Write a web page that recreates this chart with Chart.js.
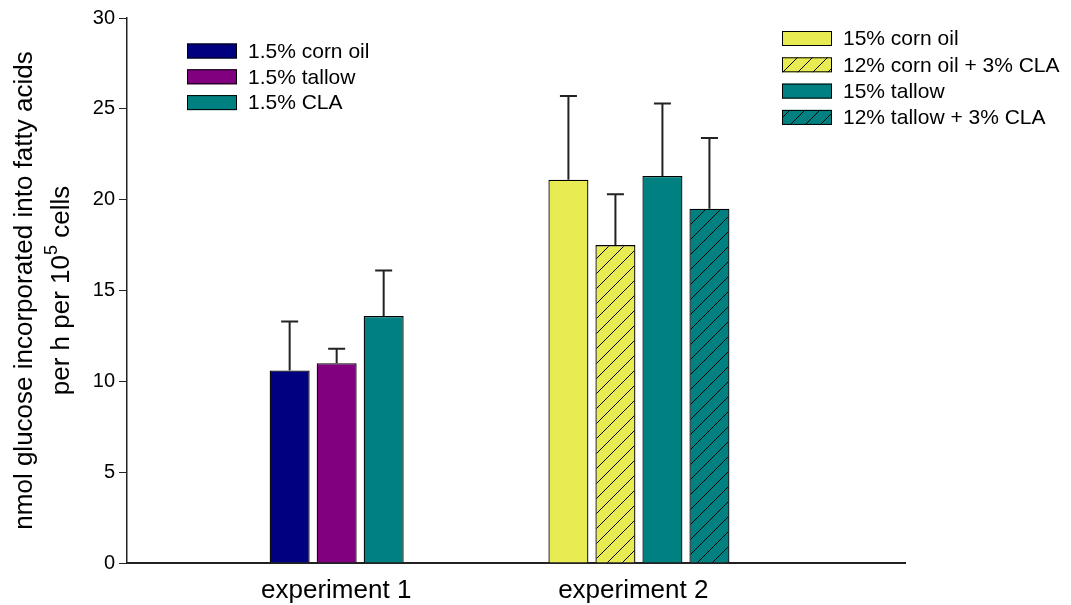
<!DOCTYPE html>
<html>
<head>
<meta charset="utf-8">
<script src="https://cdn.jsdelivr.net/npm/chart.js@4.4.0/dist/chart.umd.min.js"></script>
<style>
  body { margin: 0; background: #fff; }
  #wrap { width: 1071px; height: 605px; }
</style>
</head>
<body>
<div id="wrap"><canvas id="chart" width="1071" height="605"></canvas></div>
<script>
// data
var groupNames = ['experiment 1', 'experiment 2'];

var exp1Labels = ['1.5% corn oil', '1.5% tallow', '1.5% CLA'];
var exp1Values = [10.6, 11.0, 13.6];
var exp1Errors = [2.7, 0.8, 2.5];

var exp2Labels = ['15% corn oil', '12% corn oil + 3% CLA', '15% tallow', '12% tallow + 3% CLA'];
var exp2Values = [21.1, 17.5, 21.3, 19.5];
var exp2Errors = [4.6, 2.8, 4.0, 3.9];

var yMin = 0, yMax = 30, yStep = 5;

// styling
var exp1Colors = ['#000080', '#800080', '#008080'];
var exp2Colors = ['#e8ec52', '#e8ec52', '#008080', '#008080'];
var exp2Hatched = [false, true, false, true];

// layout (x axis in "bar slot" units)
var SLOT_COUNT = 16.55;
var GROUP_START = [3.46, 9.39];
var LABEL_AT = [4.45, 10.77];
var FONT = 'Arial, "Liberation Sans", Helvetica, sans-serif';

function hatch(color) {
    var c = document.createElement('canvas');
    c.width = 15; c.height = 15;
    var g = c.getContext('2d');
    g.fillStyle = color;
    g.fillRect(0, 0, 15, 15);
    g.strokeStyle = '#000';
    g.lineWidth = 1;
    g.beginPath();
    g.moveTo(0, 15); g.lineTo(15, 0);
    g.moveTo(-2, 2); g.lineTo(2, -2);
    g.moveTo(13, 17); g.lineTo(17, 13);
    g.stroke();
    return g.createPattern(c, 'repeat');
}

var datasets = [];
exp1Labels.forEach(function (label, i) {
    datasets.push({
        label: label,
        data: [{x: GROUP_START[0] + i, y: exp1Values[i]}],
        errors: [exp1Errors[i]],
        legendGroup: 0,
        backgroundColor: exp1Colors[i]
    });
});
exp2Labels.forEach(function (label, i) {
    datasets.push({
        label: label,
        data: [{x: GROUP_START[1] + i, y: exp2Values[i]}],
        errors: [exp2Errors[i]],
        legendGroup: 1,
        backgroundColor: exp2Hatched[i] ? hatch(exp2Colors[i]) : exp2Colors[i]
    });
});
datasets.forEach(function (ds) {
    ds.grouped = false;
    ds.borderColor = '#000';
    ds.borderWidth = 1.3;
    ds.borderSkipped = 'bottom';
    ds.barPercentage = 40 / 47;
    ds.categoryPercentage = 1;
});

var errorBars = {
    id: 'errorBars',
    afterDatasetsDraw: function (chart) {
        var ctx = chart.ctx;
        var yScale = chart.scales.y;
        ctx.save();
        ctx.strokeStyle = '#222';
        ctx.lineWidth = 2;
        chart.data.datasets.forEach(function (ds, di) {
            var meta = chart.getDatasetMeta(di);
            meta.data.forEach(function (bar, j) {
                var top = yScale.getPixelForValue(ds.data[j].y + ds.errors[j]);
                ctx.beginPath();
                ctx.moveTo(bar.x, bar.y);
                ctx.lineTo(bar.x, top);
                ctx.moveTo(bar.x - 8.5, top);
                ctx.lineTo(bar.x + 8.5, top);
                ctx.stroke();
            });
        });
        ctx.restore();
    }
};

var legends = {
    id: 'twoLegends',
    afterDraw: function (chart) {
        var ctx = chart.ctx;
        var spots = [
            {x: 187, y: 51, step: 25.8},
            {x: 782, y: 38.5, step: 26.3}
        ];
        var rows = [0, 0];
        ctx.save();
        ctx.font = '21px ' + FONT;
        ctx.textBaseline = 'middle';
        ctx.fillStyle = '#000';
        chart.data.datasets.forEach(function (ds) {
            var s = spots[ds.legendGroup];
            var y = s.y + s.step * rows[ds.legendGroup]++;
            ctx.fillStyle = ds.backgroundColor;
            ctx.fillRect(s.x, y - 7.5, 50, 15);
            ctx.strokeStyle = '#000';
            ctx.lineWidth = 1;
            ctx.strokeRect(s.x + 0.5, y - 7, 49, 14);
            ctx.fillStyle = '#000';
            ctx.fillText(ds.label, s.x + 61, y + 1);
        });
        ctx.restore();
    }
};

var yTitle = {
    id: 'yTitle',
    afterDraw: function (chart) {
        var ctx = chart.ctx;
        var area = chart.chartArea;
        var cy = (area.top + area.bottom) / 2;
        ctx.save();
        ctx.fillStyle = '#000';
        ctx.textBaseline = 'alphabetic';

        ctx.translate(32, cy);
        ctx.rotate(-Math.PI / 2);
        ctx.font = '26px ' + FONT;
        ctx.textAlign = 'center';
        ctx.fillText('nmol glucose incorporated into fatty acids', 0, 0);
        ctx.restore();

        ctx.save();
        ctx.fillStyle = '#000';
        ctx.translate(69, cy);
        ctx.rotate(-Math.PI / 2);
        var a = 'per h per 10', sup = '5', b = ' cells';
        ctx.font = '26px ' + FONT;
        var wa = ctx.measureText(a).width, wb = ctx.measureText(b).width;
        ctx.font = '18px ' + FONT;
        var ws = ctx.measureText(sup).width;
        var x0 = -(wa + ws + wb) / 2;
        ctx.textAlign = 'left';
        ctx.font = '26px ' + FONT;
        ctx.fillText(a, x0, 0);
        ctx.fillText(b, x0 + wa + ws, 0);
        ctx.font = '18px ' + FONT;
        ctx.fillText(sup, x0 + wa, -12);
        ctx.restore();
    }
};

new Chart(document.getElementById('chart'), {
    type: 'bar',
    data: {datasets: datasets},
    options: {
        responsive: false,
        animation: false,
        devicePixelRatio: 1,
        layout: {padding: {top: 18, right: 166, bottom: 0, left: 0}},
        plugins: {legend: {display: false}, tooltip: {enabled: false}},
        scales: {
            x: {
                type: 'linear',
                offset: false,
                min: 0,
                max: SLOT_COUNT,
                grid: {display: false, drawTicks: false},
                border: {display: true, color: '#222', width: 2},
                afterBuildTicks: function (scale) {
                    scale.ticks = LABEL_AT.map(function (v) { return {value: v}; });
                },
                afterFit: function (scale) { scale.height = 42; },
                ticks: {
                    autoSkip: false,
                    maxRotation: 0,
                    padding: 12,
                    color: '#000',
                    font: {family: FONT, size: 26},
                    callback: function (value, index) { return groupNames[index]; }
                }
            },
            y: {
                min: yMin,
                max: yMax,
                grid: {display: true, drawOnChartArea: false, drawTicks: true, tickLength: 8, color: '#222', lineWidth: 1},
                border: {display: true, color: '#222', width: 1.5},
                afterFit: function (scale) { scale.width = 127; },
                ticks: {
                    stepSize: yStep,
                    padding: 4,
                    color: '#000',
                    font: {family: FONT, size: 20}
                }
            }
        }
    },
    plugins: [errorBars, legends, yTitle]
});
</script>
</body>
</html>
